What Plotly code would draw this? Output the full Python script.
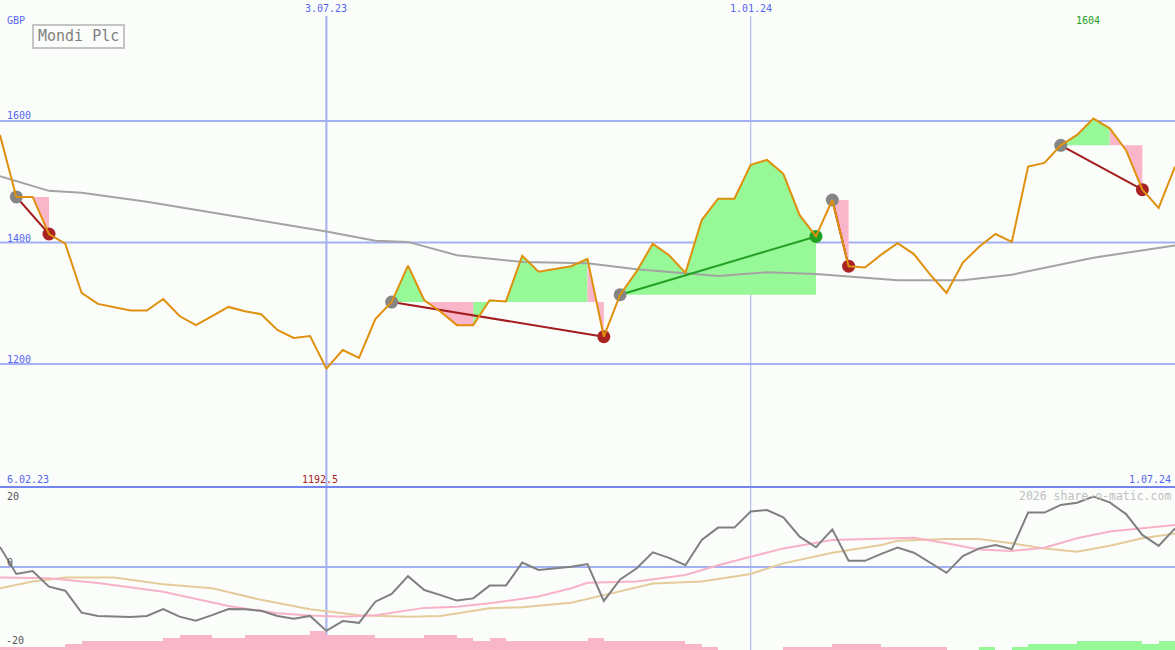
import pandas as pd
import plotly.graph_objects as go

# ---------------- data ----------------
dates = pd.date_range("2023-02-13", periods=73, freq="7D")

price = [1577, 1475, 1475, 1414, 1398, 1317, 1299, 1293, 1288, 1288,
         1307, 1279, 1264, 1279, 1294, 1287, 1282, 1256, 1243, 1246,
         1192.5, 1223, 1210, 1274, 1302, 1362, 1305, 1286, 1264, 1264,
         1305, 1303, 1378, 1352, 1357, 1361, 1373, 1245, 1314, 1352,
         1398, 1379, 1350, 1437, 1472, 1472, 1528, 1536, 1513, 1445,
         1410, 1470, 1361, 1359, 1380, 1399, 1381, 1347, 1317, 1367,
         1393, 1414, 1401, 1525, 1531, 1560, 1577, 1604, 1588, 1552,
         1487, 1457, 1525]

sma_idx = [0, 3, 5, 9, 14, 20, 23, 25, 28, 32, 36, 39, 44, 47, 50, 53, 55, 59, 62, 67, 72]
sma_val = [1509, 1485, 1482, 1467, 1445, 1418, 1403, 1401, 1379, 1368, 1366, 1356, 1345,
           1351, 1348, 1342, 1338, 1338, 1347, 1375, 1395]

trade_entry = [1, 24, 38, 51, 65]
trade_exit = [3, 37, 50, 52, 70]

# lower panel oscillator
mom = [5.5, -1.9, -1.1, -5.4, -6.5, -12.5, -13.4, -13.6, -13.7, -13.4,
       -11.5, -13.6, -14.7, -13.2, -11.5, -11.6, -12.0, -13.4, -14.2, -13.4,
       -17.5, -14.8, -15.3, -9.5, -7.4, -2.5, -6.3, -7.7, -9.2, -8.6,
       -5.1, -5.1, 1.2, -0.8, -0.4, 0.1, 0.8, -9.3, -3.4, -0.4,
       4.0, 2.5, 0.5, 7.4, 10.8, 10.8, 15.2, 15.6, 13.6, 8.3,
       5.4, 10.3, 1.7, 1.7, 3.6, 5.3, 3.9, 1.2, -1.6, 3.0,
       5.1, 6.0, 4.9, 14.9, 14.9, 17.0, 17.6, 19.3, 17.7, 14.5,
       8.8, 5.8, 10.6]

pink_idx = [0, 3, 6, 10, 14, 17, 19, 21, 23, 26, 28, 30, 33, 35, 36, 39, 42, 44, 46,
            48, 51, 53, 56, 58, 60, 62, 64, 66, 68, 70, 72]
pink_val = [-2.9, -3.1, -4.4, -6.8, -10.7, -12.7, -13.3, -13.6, -13.2, -11.2, -10.9,
            -9.9, -8.1, -5.8, -4.3, -4.0, -2.2, 0.5, 2.8, 5.1, 7.4, 7.7, 8.0, 6.5,
            4.8, 4.4, 5.3, 7.9, 9.7, 10.6, 11.5]

tan_idx = [0, 2, 4, 7, 10, 13, 16, 19, 22, 25, 27, 30, 32, 35, 37, 39, 40, 43, 46,
           48, 51, 54, 55, 58, 60, 62, 64, 66, 68, 70, 72]
tan_val = [-5.8, -4.0, -2.9, -2.9, -4.7, -5.8, -9.0, -11.6, -13.2, -13.6, -13.4,
           -11.3, -11.0, -9.8, -7.7, -5.6, -4.5, -4.0, -1.9, 1.0, 3.9, 6.0, 7.2,
           7.7, 7.7, 6.5, 5.1, 4.2, 5.8, 7.9, 9.2]

bar_lvl = [-1, -1, -1, -1, -2, -3, -3, -3, -3, -3,
           -4, -5, -5, -4, -4, -5, -5, -5, -5, -6,
           -5, -5, -5, -4, -4, -4, -5, -5, -4, -3,
           -4, -3, -3, -3, -3, -3, -4, -3, -3, -3,
           -3, -3, -2, -1, 0, 0, 0, 0, -1, -1,
           -1, -2, -2, -2, -1, -1, -1, -1, 0, 0,
           1, 0, 1, 2, 2, 2, 3, 3, 3, 3,
           2, 3, 3]

grid_levels = [1600, 1400, 1200]
vline_idx = [20, 46]
top_labels = ["3.07.23", "1.01.24"]

# ---------------- styling ----------------
W, H = 1175, 650
BG = "#fbfdfb"
BLUE_TXT = "#5566ee"
GRID = "#a3b0f2"
SEP = "#7585ee"
GREEN_FILL = "#96f896"
PINK_FILL = "#f9b5c9"
PRICE_C = "#df900c"


def px(x):
    return x / W


def py(y):
    return 1 - y / H


top_dom = [py(487), py(16)]
bot_dom = [0, py(487)]

fig = go.Figure()

# histogram bars (bottom)
week_ms = 7 * 24 * 3600 * 1000
fig.add_trace(go.Bar(
    x=dates, y=[abs(v) for v in bar_lvl], base=0, offset=0, width=week_ms,
    marker=dict(color=[GREEN_FILL if v > 0 else PINK_FILL for v in bar_lvl], line=dict(width=0)),
    xaxis="x2", yaxis="y3", showlegend=False, hoverinfo="skip"))

fig.add_trace(go.Scatter(x=[dates[i] for i in tan_idx], y=tan_val, mode="lines",
                         line=dict(color="#e5cb9b", width=2), xaxis="x2", yaxis="y2",
                         showlegend=False))
fig.add_trace(go.Scatter(x=[dates[i] for i in pink_idx], y=pink_val, mode="lines",
                         line=dict(color="#f8b2c8", width=2), xaxis="x2", yaxis="y2",
                         showlegend=False))
fig.add_trace(go.Scatter(x=dates, y=mom, mode="lines",
                         line=dict(color="#808080", width=2), xaxis="x2", yaxis="y2",
                         showlegend=False))

# trade fills
gx, gy, rx, ry = [], [], [], []
for e, x in zip(trade_entry, trade_exit):
    lvl = price[e]
    for i in range(e, x):
        xs = [dates[i], dates[i], dates[i + 1], dates[i + 1], dates[i], None]
        ys = [lvl, price[i], price[i + 1], lvl, lvl, None]
        if price[i + 1] >= lvl:
            gx += xs; gy += ys
        else:
            rx += xs; ry += ys
fig.add_trace(go.Scatter(x=gx, y=gy, mode="none", fill="toself", fillcolor=GREEN_FILL,
                         showlegend=False, hoverinfo="skip"))
fig.add_trace(go.Scatter(x=rx, y=ry, mode="none", fill="toself", fillcolor=PINK_FILL,
                         showlegend=False, hoverinfo="skip"))

# long moving average
fig.add_trace(go.Scatter(x=[dates[i] for i in sma_idx], y=sma_val, mode="lines",
                         line=dict(color="#a3a3a3", width=2), showlegend=False))

# trade lines & dots
for e, x in zip(trade_entry, trade_exit):
    col = "#22a022" if price[x] > price[e] else "#a31d1d"
    fig.add_trace(go.Scatter(x=[dates[e], dates[x]], y=[price[e], price[x]], mode="lines",
                             line=dict(color=col, width=2), showlegend=False))
fig.add_trace(go.Scatter(x=[dates[e] for e in trade_entry], y=[price[e] for e in trade_entry],
                         mode="markers", marker=dict(color="#858585", size=13),
                         showlegend=False))
fig.add_trace(go.Scatter(x=[dates[x] for x in trade_exit], y=[price[x] for x in trade_exit],
                         mode="markers",
                         marker=dict(color=["#22a022" if price[x] > price[e] else "#a82222"
                                            for e, x in zip(trade_entry, trade_exit)], size=13),
                         showlegend=False))

# price line
fig.add_trace(go.Scatter(x=dates, y=price, mode="lines",
                         line=dict(color=PRICE_C, width=2), showlegend=False))

# ---------------- shapes ----------------
shapes = []
for g in grid_levels:
    shapes.append(dict(type="line", xref="paper", yref="y", x0=0, x1=1, y0=g, y1=g,
                       line=dict(color=GRID, width=2), layer="below"))
shapes.append(dict(type="line", xref="paper", yref="y2", x0=0, x1=1, y0=0, y1=0,
                   line=dict(color=GRID, width=2), layer="below"))
for k, i in enumerate(vline_idx):
    shapes.append(dict(type="line", xref="x", yref="paper", x0=dates[i], x1=dates[i],
                       y0=0, y1=top_dom[1], line=dict(color=GRID, width=2 if k == 0 else 1),
                       layer="below"))
shapes.append(dict(type="line", xref="paper", yref="paper", x0=0, x1=1,
                   y0=top_dom[0], y1=top_dom[0], line=dict(color=SEP, width=2)))
shapes.append(dict(type="rect", xref="paper", yref="paper", x0=px(33), x1=px(124),
                   y0=py(48), y1=py(25), line=dict(color="#c4c4c4", width=2)))

# ---------------- annotations ----------------
MONO = "DejaVu Sans Mono"
ann = []


def txt(text, x, y, color, size=10, xanchor="left", xref="paper", xshift=0):
    ann.append(dict(text=text, x=x, y=py(y), xref=xref, yref="paper", xanchor=xanchor,
                    yanchor="middle", showarrow=False, xshift=xshift,
                    font=dict(family=MONO, size=size, color=color)))


txt("GBP", px(5), 20, BLUE_TXT)
txt("Mondi Plc", px(78.5), 36.5, "#808080", size=15, xanchor="center")
txt("1600", px(5), 116, BLUE_TXT)
txt("1400", px(5), 238, BLUE_TXT)
txt("1200", px(5), 359, BLUE_TXT)
for i, lab in zip(vline_idx, top_labels):
    txt(lab, dates[i], 9, BLUE_TXT, xanchor="center", xref="x")
imax = price.index(max(price))
txt(f"{max(price):g}", dates[imax], 21, "#22a022", xanchor="center", xref="x", xshift=-5)
imin = price.index(min(price))
txt(f"{min(price):g}", dates[imin], 479, "#a82222", xanchor="center", xref="x", xshift=-6)
txt("6.02.23", px(5), 479, BLUE_TXT)
txt("1.07.24", px(1173), 479, BLUE_TXT, xanchor="right")
txt("2026 share-o-matic.com", px(1173), 496, "#c0c0c0", size=11.5, xanchor="right")
txt("20", px(5), 496, "#555555")
txt("0", px(5), 562, "#555555")
txt("-20", px(4), 640, "#555555")

ax_common = dict(showgrid=False, zeroline=False, showticklabels=False, ticks="",
                 showline=False, range=[dates[0], dates[-1]])

fig.update_layout(
    width=W, height=H, margin=dict(l=0, r=0, t=0, b=0),
    paper_bgcolor=BG, plot_bgcolor=BG, showlegend=False,
    xaxis=dict(domain=[0, 1], anchor="y", **ax_common),
    yaxis=dict(domain=top_dom, range=[997.6, 1772.8], showgrid=False, zeroline=False,
               showticklabels=False, ticks=""),
    xaxis2=dict(domain=[0, 1], anchor="y2", matches="x", **ax_common),
    yaxis2=dict(domain=bot_dom, range=[-22.74, 21.92], showgrid=False, zeroline=False,
                showticklabels=False, ticks=""),
    yaxis3=dict(overlaying="y2", range=[0, 52.6], visible=False),
    shapes=shapes, annotations=ann, bargap=0, hovermode=False,
)

fig.write_html("out.html", config={"displayModeBar": False},
               post_script="document.body.style.margin='0';document.body.style.background='%s';" % BG)
